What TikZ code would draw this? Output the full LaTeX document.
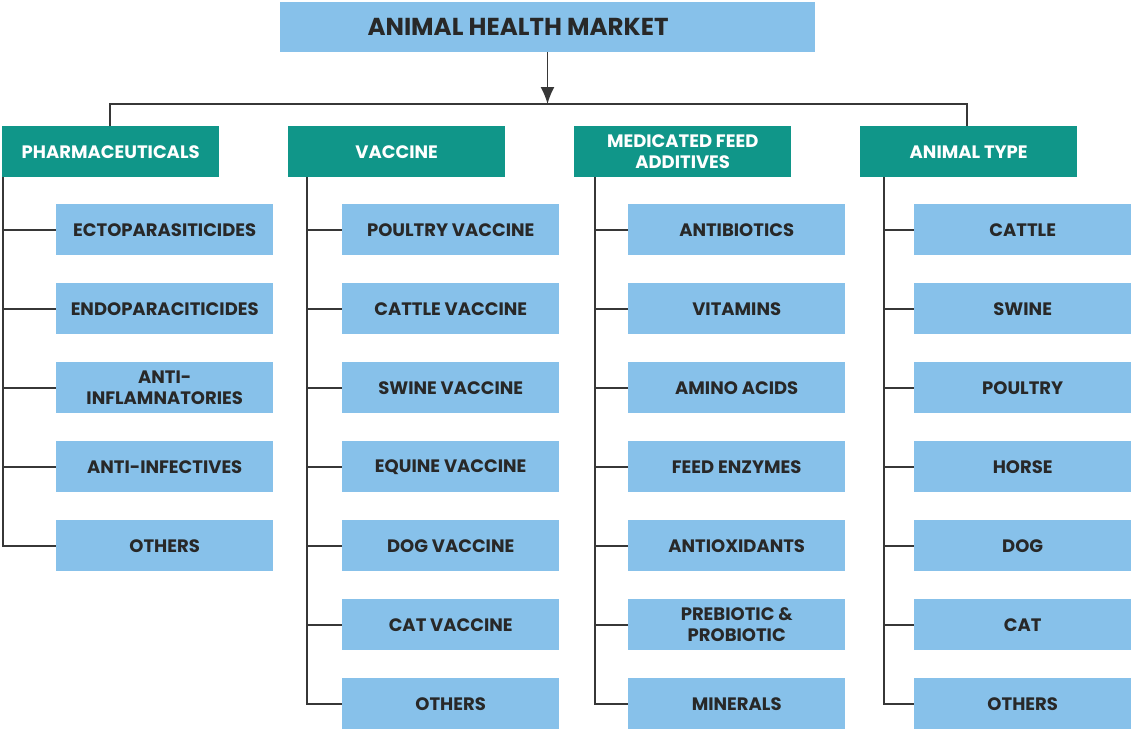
\documentclass[tikz,border=0pt]{standalone}
\usepackage{fontspec}
\setmainfont{Poppins}
\usetikzlibrary{arrows.meta}
\definecolor{lightb}{RGB}{135,193,234}
\definecolor{tealc}{RGB}{16,150,137}
\definecolor{darktext}{RGB}{40,40,40}
\definecolor{linec}{RGB}{55,55,55}
\begin{document}
\begin{tikzpicture}[x=1pt,y=-1pt,
  sub/.style={fill=lightb, minimum width=217pt, minimum height=51pt, inner sep=0pt, anchor=north west,
    text=darktext, align=center, font=\bfseries\fontsize{18}{21}\selectfont},
  cat/.style={fill=tealc, minimum width=217pt, minimum height=51pt, inner sep=0pt, anchor=north west,
    text=white, align=center, font=\bfseries\fontsize{18}{21}\selectfont},
  conn/.style={draw=linec, line width=1.6pt},
  arr/.style={conn, -{Latex[length=17pt,width=14pt]}}]
\useasboundingbox (0,0) rectangle (1131,729);
% title
\node[fill=lightb, minimum width=535pt, minimum height=50pt, inner sep=0pt, anchor=north west] (top) at (280,2) {};
\node[text=darktext, font=\bfseries\fontsize{24.5}{28}\selectfont] (title) at (518,27) {ANIMAL HEALTH MARKET};
% categories
\node[cat] (pharma) at (2,126) {PHARMACEUTICALS};
\node[cat] (vacc) at (288,126) {VACCINE};
\node[cat] (med) at (574,126) {MEDICATED FEED\\ADDITIVES};
\node[cat] (anim) at (860,126) {ANIMAL TYPE};
% top connectors
\coordinate (junc) at (547.5,104);
\coordinate (left) at (110,104);
\coordinate (right) at (967,104);
\draw[arr] (top.south -| junc) -- (junc);
\draw[conn] (pharma.north -| left) -- (left) -- (right) -- (anim.north -| right);
% sub items
\foreach [count=\i] \t in {ECTOPARASITICIDES, ENDOPARACITICIDES, {ANTI-\\INFLAMNATORIES}, ANTI-INFECTIVES, OTHERS}
  \node[sub] (p\i) at (56,{204+79*(\i-1)}) {\t};
\foreach [count=\i] \t in {POULTRY VACCINE, CATTLE VACCINE, SWINE VACCINE, EQUINE VACCINE, DOG VACCINE, CAT VACCINE, OTHERS}
  \node[sub] (v\i) at (342,{204+79*(\i-1)}) {\t};
\foreach [count=\i] \t in {ANTIBIOTICS, VITAMINS, AMINO ACIDS, FEED ENZYMES, ANTIOXIDANTS, {PREBIOTIC \&\\PROBIOTIC}, MINERALS}
  \node[sub] (m\i) at (628,{204+79*(\i-1)}) {\t};
\foreach [count=\i] \t in {CATTLE, SWINE, POULTRY, HORSE, DOG, CAT, OTHERS}
  \node[sub] (a\i) at (914,{204+79*(\i-1)}) {\t};
% trunks
\coordinate (pt) at (3,177);
\coordinate (vt) at (307,177);
\coordinate (mt) at (595,177);
\coordinate (at) at (884,177);
\draw[conn] (pt) |- (p5.west);
\foreach \i in {1,...,4} \draw[conn] (p\i.west -| pt) -- (p\i.west);
\draw[conn] (vt) |- (v7.west);
\foreach \i in {1,...,6} \draw[conn] (v\i.west -| vt) -- (v\i.west);
\draw[conn] (mt) |- (m7.west);
\foreach \i in {1,...,6} \draw[conn] (m\i.west -| mt) -- (m\i.west);
\draw[conn] (at) |- (a7.west);
\foreach \i in {1,...,6} \draw[conn] (a\i.west -| at) -- (a\i.west);
\end{tikzpicture}
\end{document}
